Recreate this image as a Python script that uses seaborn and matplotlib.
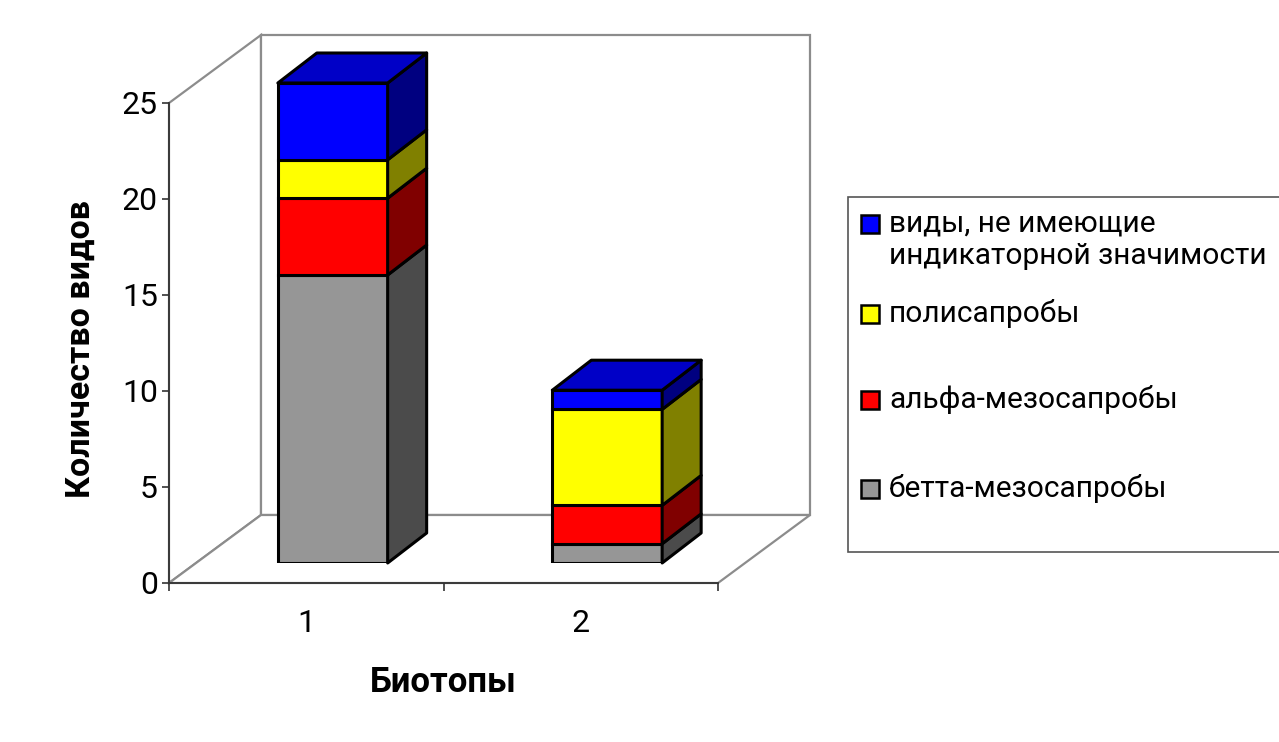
import matplotlib.pyplot as plt
import matplotlib.colors as mcolors
from matplotlib.patches import Polygon, Rectangle
import numpy as np
import seaborn as sns

W, H = 1279, 742

biotopes = ['1', '2']
betta = [15, 1]
alpha = [4, 2]
poly = [2, 5]
no_indicator = [4, 1]
series_names = ['бетта-мезосапробы', 'альфа-мезосапробы', 'полисапробы',
                'виды, не имеющие\nиндикаторной значимости']
series_values = [betta, alpha, poly, no_indicator]
series_colors = ['#969696', '#FF0000', '#FFFF00', '#0000FF']
y_ticks = [0, 5, 10, 15, 20, 25]

sns.set_theme(style='white')
plt.rcParams['font.family'] = ['Roboto', 'DejaVu Sans']

fig = plt.figure(figsize=(W / 100, H / 100), dpi=100)


def px_box(left, bottom, right, top):
    # pixel box (y down) -> figure fraction rect
    return [left / W, 1 - bottom / H, (right - left) / W, (bottom - top) / H]


def shade(color, k):
    r, g, b = mcolors.to_rgb(color)
    return (r * k, g * k, b * k)


# front plane of the 3d box carries the axes
ax = fig.add_axes(px_box(169, 583, 718, 103))
ax.set_xlim(-0.5, 1.5)
ax.set_ylim(0, 25)
ax.patch.set_alpha(0)

# depth of the box in data units
dx, dy = 92 / 274.5, 68 / 19.2
wall = dict(facecolor='white', edgecolor='#8c8c8c', linewidth=1.6, clip_on=False, zorder=0)
ax.add_patch(Polygon([(-0.5, 0), (-0.5, 25), (-0.5 + dx, 25 + dy), (-0.5 + dx, dy)], **wall))
ax.add_patch(Rectangle((-0.5 + dx, dy), 2, 25, **wall))
ax.add_patch(Polygon([(-0.5, 0), (1.5, 0), (1.5 + dx, dy), (-0.5 + dx, dy)], **wall))

for s in ['top', 'right']:
    ax.spines[s].set_visible(False)
for s in ['left', 'bottom']:
    ax.spines[s].set_color('#333333')
    ax.spines[s].set_linewidth(1.3)
    ax.spines[s].set_zorder(1)

ax.set_yticks(y_ticks)
ax.set_xticks([-0.5, 0.5, 1.5])
ax.set_xticklabels([])
ax.set_xticks([0, 1], minor=True)
ax.set_xticklabels(biotopes, minor=True)
ax.tick_params(axis='y', direction='out', length=5, width=1.2, color='#333333',
               left=True, pad=3, labelsize=23, labelcolor='black')
ax.tick_params(axis='x', which='major', direction='out', length=6, width=1.2,
               color='#333333', bottom=True)
ax.tick_params(axis='x', which='minor', length=0, pad=19, labelsize=23, labelcolor='black')

ax.set_ylabel('Количество видов', fontsize=24.5, fontweight='bold', color='black')
ax.yaxis.set_label_coords(-0.131, 0.4875)
ax.set_xlabel('Биотопы', fontsize=25, fontweight='bold', color='black')
ax.xaxis.set_label_coords(0.5, -0.172)

# bars sit a little deeper in the box than the front plane
bx = fig.add_axes(px_box(169 + 26.5, 563, 718 + 26.5, 83))
bx.patch.set_alpha(0)
bottoms = np.zeros(len(biotopes))
for vals, col in zip(series_values, series_colors):
    sns.barplot(x=biotopes, y=vals, bottom=bottoms.copy(), color=col, saturation=1,
                width=0.4, edgecolor='black', linewidth=2.2, ax=bx)
    bottoms = bottoms + np.array(vals)
bx.set_xlim(-0.5, 1.5)
bx.set_ylim(0, 25)
bx.axis('off')

# side and top faces of each stacked segment
bdx, bdy = 39 / 274.5, 30 / 19.2
face = dict(edgecolor='black', linewidth=2.2, clip_on=False, joinstyle='round')
for container, col in zip(bx.containers, series_colors):
    for bar in container:
        x0 = bar.get_x()
        x1 = x0 + bar.get_width()
        y0 = bar.get_y()
        y1 = y0 + bar.get_height()
        bx.add_patch(Polygon([(x1, y0), (x1 + bdx, y0 + bdy), (x1 + bdx, y1 + bdy), (x1, y1)],
                             facecolor=shade(col, 0.5), **face))
for bar in bx.containers[-1]:
    x0 = bar.get_x()
    x1 = x0 + bar.get_width()
    y1 = bar.get_y() + bar.get_height()
    bx.add_patch(Polygon([(x0, y1), (x0 + bdx, y1 + bdy), (x1 + bdx, y1 + bdy), (x1, y1)],
                         facecolor=shade(series_colors[-1], 0.78), **face))

# legend box, drawn Excel-style in pixel space
lg = fig.add_axes([0, 0, 1, 1])
lg.set_xlim(0, W)
lg.set_ylim(H, 0)
lg.axis('off')
lg.patch.set_alpha(0)
lg.add_patch(Rectangle((848, 197), 460, 355, facecolor='white', edgecolor='#555555',
                       linewidth=1.2, clip_on=False))
legend_rows = [224, 314, 400, 489]
for name, col, yc in zip(series_names[::-1], series_colors[::-1], legend_rows):
    lg.add_patch(Rectangle((861, yc - 9), 18, 18, facecolor=col, edgecolor='black', linewidth=1.8))
    lg.text(889, yc - 15, name, fontsize=21.5, va='top', ha='left', color='black', linespacing=1.25)

fig.savefig('out.png', dpi=100)
